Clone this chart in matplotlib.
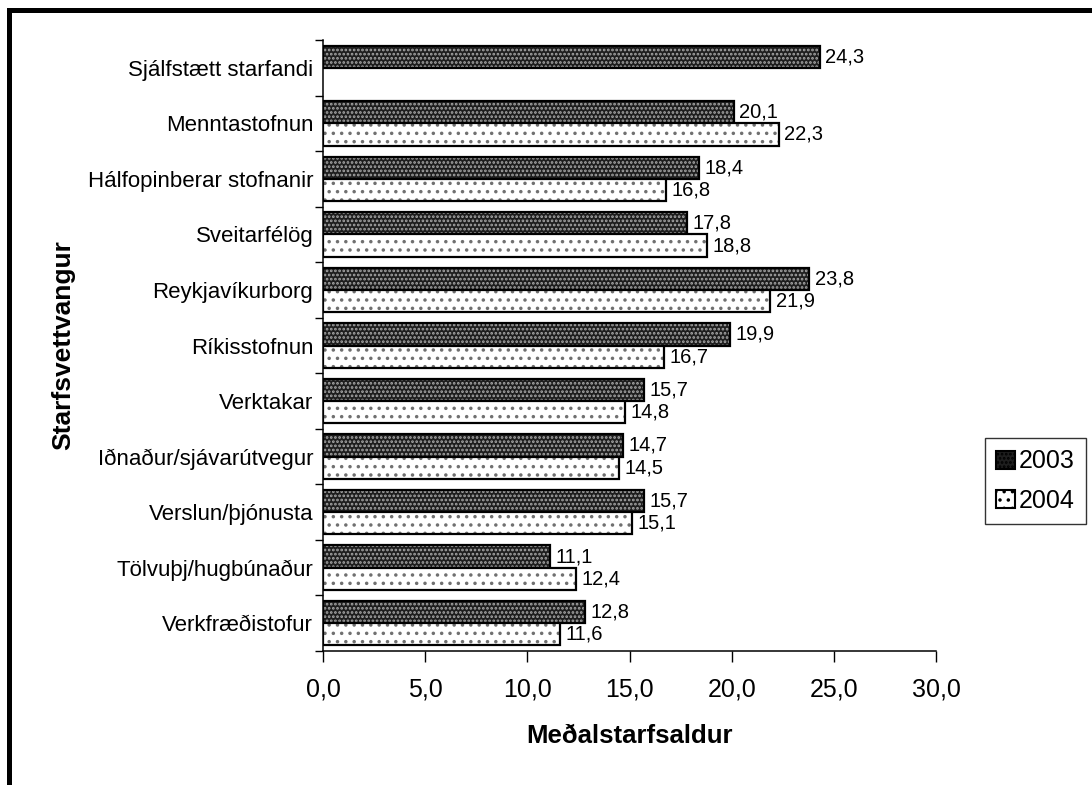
import matplotlib.pyplot as plt
from matplotlib.patches import Rectangle, Patch
import numpy as np

plt.rcParams["font.family"] = ["Liberation Sans", "DejaVu Sans"]
plt.rcParams["hatch.linewidth"] = 1.3

categories = [
    "Sjálfstætt starfandi",
    "Menntastofnun",
    "Hálfopinberar stofnanir",
    "Sveitarfélög",
    "Reykjavíkurborg",
    "Ríkisstofnun",
    "Verktakar",
    "Iðnaður/sjávarútvegur",
    "Verslun/þjónusta",
    "Tölvuþj/hugbúnaður",
    "Verkfræðistofur",
]
values_2003 = [24.3, 20.1, 18.4, 17.8, 23.8, 19.9, 15.7, 14.7, 15.7, 11.1, 12.8]
values_2004 = [None, 22.3, 16.8, 18.8, 21.9, 16.7, 14.8, 14.5, 15.1, 12.4, 11.6]
x_ticks = [0, 5, 10, 15, 20, 25, 30]


def comma(v):
    return f"{v:.1f}".replace(".", ",")


fig = plt.figure(figsize=(10.92, 7.85), dpi=100)
ax = fig.add_axes([323 / 1092, 1 - 651 / 785, (936 - 323) / 1092, (651 - 40) / 785])

pos = np.arange(len(categories))
h = 0.4
dark = "#1e1e1e"

for i, (a, b) in enumerate(zip(values_2003, values_2004)):
    # 2003: dark fill, light dots
    ax.barh(i - h / 2, a, height=h, color=dark, edgecolor="#a8a8a8", hatch="....", linewidth=0)
    ax.barh(i - h / 2, a, height=h, fill=False, edgecolor="black", linewidth=1.6)
    ax.annotate(comma(a), (a, i - h / 2), xytext=(4, 0), textcoords="offset points",
                va="center", ha="left", fontsize=14.5)
    if b is not None:
        ax.barh(i + h / 2, b, height=h, color="white", edgecolor="#707070", hatch="..", linewidth=0)
        ax.barh(i + h / 2, b, height=h, fill=False, edgecolor="black", linewidth=1.6)
        ax.annotate(comma(b), (b, i + h / 2), xytext=(4, 0), textcoords="offset points",
                    va="center", ha="left", fontsize=14.5)

ax.set_xlim(0, 30)
ax.set_ylim(len(categories) - 0.5, -0.5)

ax.set_xticks(x_ticks)
ax.set_xticklabels([comma(v) for v in x_ticks], fontsize=18)
ax.tick_params(axis="x", direction="out", length=8, width=1, pad=11)

ax.set_yticks(np.arange(len(categories) + 1) - 0.5)
ax.set_yticklabels([])
ax.tick_params(axis="y", which="major", direction="out", length=6, width=1)
ax.set_yticks(pos, minor=True)
ax.set_yticklabels(categories, minor=True, fontsize=16)
ax.tick_params(axis="y", which="minor", length=0, pad=7)

for side in ("top", "right"):
    ax.spines[side].set_visible(False)
for side in ("left", "bottom"):
    ax.spines[side].set_linewidth(1.1)

ax.set_xlabel("Meðalstarfsaldur", fontsize=18.5, fontweight="bold")
ax.xaxis.set_label_coords(0.5, (651 - 736) / 611)
ax.xaxis.label.set_verticalalignment("center")
ax.set_ylabel("Starfsvettvangur", fontsize=19, fontweight="bold")
ax.yaxis.set_label_coords((63 - 323) / 613, 0.5)
ax.yaxis.label.set_verticalalignment("center")

handles = [
    Patch(facecolor=dark, edgecolor="#a8a8a8", hatch="....", linewidth=0),
    Patch(facecolor="white", edgecolor="#707070", hatch="..", linewidth=0),
]
leg = fig.legend(handles, ["2003", "2004"], loc="center left",
                 bbox_to_anchor=(985 / 1092, 1 - 481 / 785), fontsize=18,
                 frameon=True, fancybox=False, handlelength=0.75, handleheight=0.75,
                 handletextpad=0.15, labelspacing=0.6, borderpad=0.45, borderaxespad=0)
leg.get_frame().set_edgecolor("black")
leg.get_frame().set_linewidth(1.0)
for p in leg.get_patches():
    p.set_edgecolor("black")
    p.set_linewidth(1.5)

# outer frame (top and left edges)
fig.add_artist(Rectangle((7 / 1092, 1 - 13 / 785), 1, 5 / 785, transform=fig.transFigure,
                         color="black", lw=0))
fig.add_artist(Rectangle((7 / 1092, 0), 5 / 1092, 1 - 8 / 785, transform=fig.transFigure,
                         color="black", lw=0))

fig.savefig("out.png", dpi=100)
